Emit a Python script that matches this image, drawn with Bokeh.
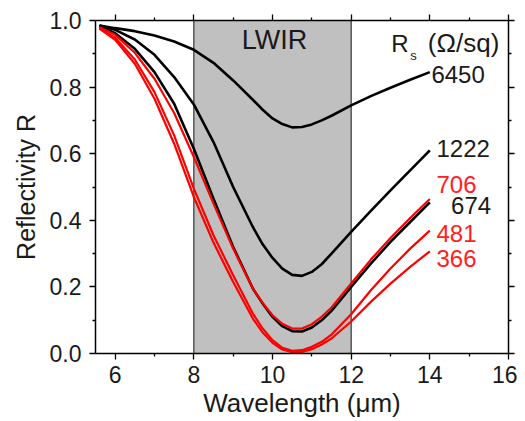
from bokeh.plotting import figure
from bokeh.models import (Range1d, LinearAxis, FixedTicker, Label, NumeralTickFormatter,
                          CustomJSTickFormatter)
from bokeh.embed import file_html
from bokeh.resources import INLINE

# ---- data ----
wavelength = [5.6, 6.0, 6.5, 7.0, 7.5, 8.0, 8.5, 9.0, 9.5, 9.75, 10.0, 10.25,
              10.5, 10.75, 11.0, 11.25, 11.5, 12.0, 12.5, 13.0, 13.5, 14.0]

r_6450 = [0.985, 0.977, 0.968, 0.955, 0.937, 0.912, 0.873, 0.820, 0.762, 0.732, 0.706, 0.689,
          0.679, 0.680, 0.688, 0.700, 0.714, 0.745, 0.773, 0.798, 0.822, 0.845]
r_1222 = [0.985, 0.972, 0.943, 0.897, 0.830, 0.748, 0.635, 0.500, 0.380, 0.328, 0.287, 0.255,
          0.236, 0.233, 0.245, 0.268, 0.300, 0.365, 0.428, 0.490, 0.550, 0.610]
r_674 = [0.983, 0.962, 0.915, 0.845, 0.750, 0.615, 0.465, 0.320, 0.195, 0.150, 0.110, 0.082,
         0.067, 0.066, 0.078, 0.100, 0.128, 0.200, 0.270, 0.335, 0.395, 0.454]
r_706 = [0.980, 0.957, 0.903, 0.825, 0.722, 0.590, 0.450, 0.315, 0.195, 0.152, 0.115, 0.089,
         0.075, 0.075, 0.088, 0.110, 0.138, 0.210, 0.282, 0.347, 0.407, 0.464]
r_481 = [0.978, 0.948, 0.883, 0.785, 0.655, 0.495, 0.355, 0.235, 0.120, 0.075, 0.040, 0.017,
         0.008, 0.010, 0.020, 0.035, 0.057, 0.118, 0.190, 0.255, 0.315, 0.369]
r_366 = [0.976, 0.942, 0.870, 0.765, 0.630, 0.470, 0.333, 0.215, 0.105, 0.063, 0.032, 0.012,
         0.004, 0.005, 0.013, 0.027, 0.045, 0.096, 0.155, 0.210, 0.260, 0.307]

series_names = ["6450", "1222", "674", "706", "481", "366"]
series_values = [r_6450, r_1222, r_674, r_706, r_481, r_366]
series_colors = ["black", "black", "black", "#ff0000", "#ff0000", "#ff0000"]
series_widths = [2.6, 2.6, 2.6, 2.2, 2.2, 2.2]

lwir_band = [8, 12]
x_ticks = [6, 8, 10, 12, 14, 16]
x_minor = [7, 9, 11, 13, 15]
y_ticks = [0.0, 0.2, 0.4, 0.6, 0.8, 1.0]
y_minor = [0.1, 0.3, 0.5, 0.7, 0.9]

# label positions (wavelength, R) and colours for series names
name_pos = {"6450": (14.04, 0.838), "1222": (14.17, 0.615), "706": (14.17, 0.509),
            "674": (14.54, 0.444), "481": (14.17, 0.359), "366": (14.17, 0.284)}
name_color = {"6450": "#1a1a1a", "1222": "#1a1a1a", "706": "#ff2020",
              "674": "#1a1a1a", "481": "#ff2020", "366": "#ff2020"}

FONT = "Liberation Sans"
TXT = "#1a1a1a"

p = figure(width=517, height=421, x_range=Range1d(5.5, 16), y_range=Range1d(0, 1),
           output_backend="svg", toolbar_location=None,
           min_border_left=95, min_border_right=9, min_border_top=20, min_border_bottom=68)
p.xgrid.visible = False
p.ygrid.visible = False
p.outline_line_color = None
p.background_fill_color = "white"

# band
p.quad(left=lwir_band[0], right=lwir_band[1], bottom=0, top=1,
       fill_color="#c0c0c0", line_color="#333333", line_width=1.2)

for vals, col, w in zip(series_values, series_colors, series_widths):
    p.line(wavelength, vals, line_color=col, line_width=w)


def style(ax, labels=True):
    ax.axis_line_color = "black"
    ax.axis_line_width = 1.5
    ax.major_tick_line_color = "black"
    ax.minor_tick_line_color = "black"
    ax.major_tick_line_width = 1.3
    ax.minor_tick_line_width = 1.3
    ax.major_tick_in = 0
    ax.major_tick_out = 6
    ax.minor_tick_in = 0
    ax.minor_tick_out = 3
    ax.major_label_text_font = FONT
    ax.major_label_text_color = TXT
    ax.axis_label_text_font = FONT
    ax.axis_label_text_font_style = "normal"
    ax.axis_label_text_color = TXT
    ax.axis_label_text_font_size = "25px"
    if labels:
        ax.major_label_text_font_size = "23px"
    else:
        ax.major_label_text_font_size = "10px"
        ax.major_label_standoff = 0
        ax.formatter = CustomJSTickFormatter(code="return ''")


xa = p.xaxis[0]
xa.ticker = FixedTicker(ticks=x_ticks, minor_ticks=x_minor)
style(xa)
xa.major_label_standoff = 6
xa.axis_label = "Wavelength (\u03bcm)"
xa.axis_label_text_font_size = "26px"
xa.axis_label_standoff = 2

ya = p.yaxis[0]
ya.ticker = FixedTicker(ticks=y_ticks, minor_ticks=y_minor)
ya.formatter = NumeralTickFormatter(format="0.0")
style(ya)
ya.major_label_standoff = 8
ya.axis_label = "Reflectivity R"
ya.axis_label_standoff = 7

top = LinearAxis(ticker=FixedTicker(ticks=x_ticks, minor_ticks=x_minor))
style(top, labels=False)
p.add_layout(top, "above")
right = LinearAxis(ticker=FixedTicker(ticks=y_ticks, minor_ticks=y_minor))
style(right, labels=False)
p.add_layout(right, "right")


def lab(x, y, text, size="24px", color=TXT, align="left", baseline="middle"):
    p.add_layout(Label(x=x, y=y, text=text, text_font=FONT, text_font_size=size,
                       text_color=color, text_align=align, text_baseline=baseline))


for n in series_names:
    x, y = name_pos[n]
    lab(x, y, n, size="24px", color=name_color[n])

lab(10.05, 0.94, "LWIR", size="27px", align="center")
lab(13.02, 0.931, "R", size="24px", baseline="alphabetic")
lab(13.5, 0.894, "s", size="13px", baseline="alphabetic")
lab(13.95, 0.931, "(\u03a9/sq)", size="26px", baseline="alphabetic")

open("out.html", "w").write(file_html(p, INLINE))
